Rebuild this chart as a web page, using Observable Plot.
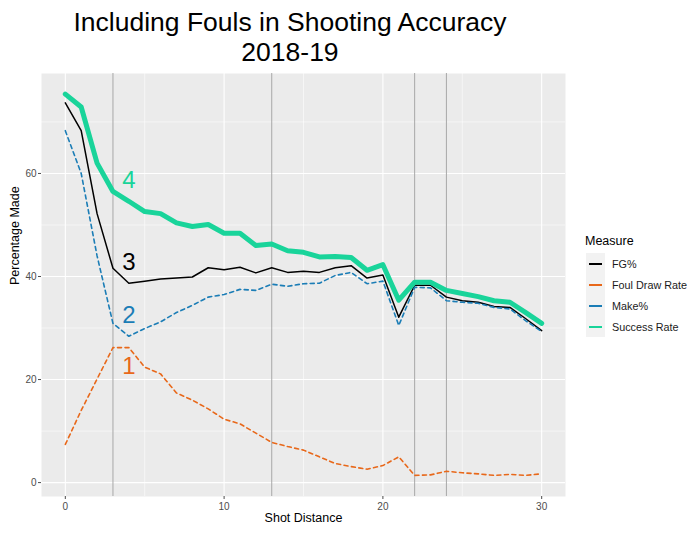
<!DOCTYPE html>
<html>
<head>
<meta charset="utf-8">
<script src="https://cdn.jsdelivr.net/npm/d3@7"></script>
<script src="https://cdn.jsdelivr.net/npm/@observablehq/plot@0.6"></script>
<style>
  html, body { margin: 0; padding: 0; background: #ffffff; }
  #wrap { position: relative; width: 700px; height: 535px; background: #ffffff; font-family: "Liberation Sans", Arial, sans-serif; overflow: hidden; }
  #title { position: absolute; left: 0; top: 7px; width: 580px; text-align: center; font-size: 26.5px; line-height: 30px; color: #000; }
  #chart { position: absolute; left: 0; top: 70px; }
  #legend { position: absolute; left: 585px; top: 232px; }
  .lg-title { font-size: 12.5px; height: 21px; line-height: 19px; color: #000; }
  .lg-row { display: flex; align-items: center; height: 21px; }
  .lg-key { width: 19px; height: 21px; background: #F2F2F2; position: relative; margin-left: 1px; }
  .lg-key span { position: absolute; left: 3px; right: 3px; top: 10px; height: 1.5px; }
  .lg-label { font-size: 10.8px; color: #1a1a1a; margin-left: 7px; }
</style>
</head>
<body>
<div id="wrap">
  <div id="title">Including Fouls in Shooting Accuracy<br>2018-19</div>
  <div id="chart"></div>
  <div id="legend"></div>
</div>
<script>
// ---- data ----
const distance = [0,1,2,3,4,5,6,7,8,9,10,11,12,13,14,15,16,17,18,19,20,21,22,23,24,25,26,27,28,29,30];
const fgPct      = [73.7,68.3,52.2,41.6,38.7,39.1,39.5,39.7,39.9,41.7,41.3,41.8,40.7,41.7,40.8,41.0,40.8,41.7,42.1,39.7,40.3,32.1,38.3,38.3,36.0,35.3,35.0,34.2,34.0,31.8,29.5];
const foulRate   = [7.4,14.0,20.1,26.2,26.2,22.4,21.1,17.4,16.0,14.3,12.3,11.4,9.6,7.8,7.0,6.3,5.0,3.7,3.1,2.6,3.3,5.0,1.4,1.5,2.2,1.9,1.7,1.4,1.6,1.4,1.7];
const makePct    = [68.3,60.0,44.0,30.9,28.4,29.9,31.2,33.0,34.4,36.0,36.5,37.5,37.3,38.5,38.1,38.6,38.7,40.2,40.8,38.6,39.1,30.5,37.9,37.8,35.3,35.0,34.8,34.0,33.7,31.4,29.3];
const successRate= [75.4,72.9,62.0,56.5,54.6,52.6,52.2,50.4,49.7,50.1,48.4,48.4,46.0,46.3,45.0,44.7,43.8,43.9,43.7,41.2,42.3,35.4,38.9,38.9,37.3,36.7,36.1,35.3,35.0,33.0,30.9];

const measures = ["FG%", "Foul Draw Rate", "Make%", "Success Rate"];
const measureColors = ["#000000", "#E8681A", "#1B7DB6", "#19D49A"];

const vlines = [3, 13, 22, 24];
const xTicks = [0, 10, 20, 30];
const xMinor = [5, 15, 25];
const yTicks = [0, 20, 40, 60];
const yMinor = [10, 30, 50, 70];

const labelText = ["4", "3", "2", "1"];
const labelX = [4, 4, 4, 4];
const labelY = [58.6, 42.7, 32.4, 22.6];
const labelColors = ["#19D49A", "#000000", "#1B7DB6", "#E8681A"];

// ---- tables ----
const rows = distance.map((d, i) => ({d, fg: fgPct[i], foul: foulRate[i], make: makePct[i], succ: successRate[i]}));
const labels = labelText.map((t, i) => ({t, x: labelX[i], y: labelY[i], c: labelColors[i]}));

const chart = Plot.plot({
  width: 700,
  height: 465,
  marginTop: 3,
  marginBottom: 39,
  marginLeft: 41,
  marginRight: 135,
  style: {fontFamily: "'Liberation Sans', Arial, sans-serif", background: "transparent"},
  x: {domain: [-1.5, 31.5]},
  y: {domain: [-2.7, 79.4]},
  marks: [
    Plot.frame({fill: "#EBEBEB", stroke: null}),
    Plot.ruleY(yMinor, {stroke: "#ffffff", strokeWidth: 0.55}),
    Plot.ruleX(xMinor, {stroke: "#ffffff", strokeWidth: 0.55}),
    Plot.ruleY(yTicks, {stroke: "#ffffff", strokeWidth: 1.1}),
    Plot.ruleX(xTicks, {stroke: "#ffffff", strokeWidth: 1.1}),
    Plot.ruleX(vlines, {stroke: "#A8A8A8", strokeWidth: 1}),
    Plot.line(rows, {x: "d", y: "fg", stroke: measureColors[0], strokeWidth: 1.5}),
    Plot.line(rows, {x: "d", y: "foul", stroke: measureColors[1], strokeWidth: 1.6, strokeDasharray: "4,3.5"}),
    Plot.line(rows, {x: "d", y: "make", stroke: measureColors[2], strokeWidth: 1.6, strokeDasharray: "4,3.5"}),
    Plot.line(rows, {x: "d", y: "succ", stroke: measureColors[3], strokeWidth: 5}),
    Plot.text(labels, {x: "x", y: "y", text: "t", fill: "c", fontSize: 24}),
    Plot.axisX({ticks: xTicks, tickSize: 3, tickPadding: 3, fontSize: 10, color: "#4D4D4D", label: null}),
    Plot.axisY({ticks: yTicks, tickSize: 3, tickPadding: 2, fontSize: 10, color: "#4D4D4D", label: null}),
    Plot.text(["Shot Distance"], {text: d => d, frameAnchor: "bottom", dy: 25, fontSize: 12.5, fill: "#000"}),
    Plot.text(["Percentage Made"], {text: d => d, frameAnchor: "left", dx: -27, rotate: -90, fontSize: 12.5, fill: "#000"})
  ]
});
document.getElementById("chart").appendChild(chart);

// ---- legend ----
const legend = document.getElementById("legend");
const lt = document.createElement("div");
lt.className = "lg-title";
lt.textContent = "Measure";
legend.appendChild(lt);
measures.forEach((m, i) => {
  const row = document.createElement("div");
  row.className = "lg-row";
  const key = document.createElement("div");
  key.className = "lg-key";
  const ln = document.createElement("span");
  ln.style.background = measureColors[i];
  key.appendChild(ln);
  const lab = document.createElement("div");
  lab.className = "lg-label";
  lab.textContent = m;
  row.appendChild(key);
  row.appendChild(lab);
  legend.appendChild(row);
});
</script>
</body>
</html>
